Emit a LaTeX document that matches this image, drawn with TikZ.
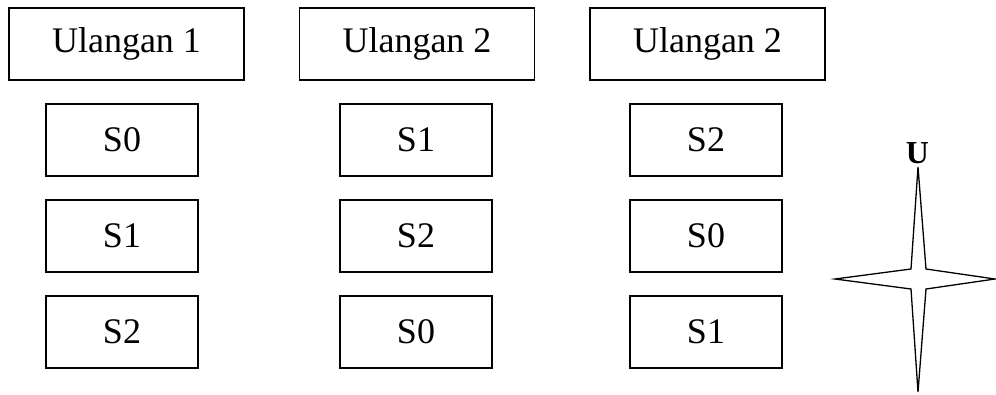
\documentclass[tikz,border=0pt]{standalone}
\usepackage{fontspec}
\setmainfont{Liberation Serif}
\begin{document}
\begin{tikzpicture}[x=1pt,y=-1pt,
  hdr/.style={draw,line width=1.5pt,inner sep=0pt,minimum width=235pt,minimum height=72pt,font=\fontsize{36}{40}\selectfont},
  sbox/.style={draw,line width=1.3pt,inner sep=0pt,minimum width=152pt,minimum height=72pt,font=\fontsize{36}{40}\selectfont},
  star/.style={draw,line width=1.3pt,line join=miter}]
\useasboundingbox (0,0) rectangle (996,394);
\node[hdr] (h1) at (126.5,44) {Ulangan 1};
\node[hdr] (h2) at (417,44) {Ulangan 2};
\node[hdr] (h3) at (707.5,44) {Ulangan 2};
\node[sbox] (a1) at (122,140) {S0};
\node[sbox] (a2) at (122,236) {S1};
\node[sbox] (a3) at (122,332) {S2};
\node[sbox] (b1) at (416,140) {S1};
\node[sbox] (b2) at (416,236) {S2};
\node[sbox] (b3) at (416,332) {S0};
\node[sbox] (c1) at (706,140) {S2};
\node[sbox] (c2) at (706,236) {S0};
\node[sbox] (c3) at (706,332) {S1};
\node[font=\fontsize{32}{36}\selectfont\bfseries,inner sep=0pt] (north) at (917.5,153) {U};
\draw[star] (918,167) -- (926,269) -- (995,279) -- (926,289) -- (918,392) -- (911,289) -- (835,279) -- (911,269) -- cycle;
\end{tikzpicture}
\end{document}
